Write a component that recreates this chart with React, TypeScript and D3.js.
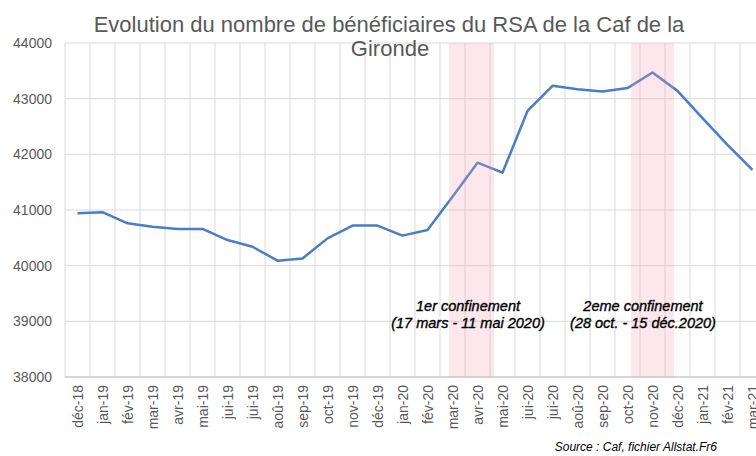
import React from 'react';
import * as d3 from 'd3';

const width = 756;
const height = 456;

const months = [
  'déc-18', 'jan-19', 'fév-19', 'mar-19', 'avr-19', 'mai-19', 'jui-19', 'jui-19',
  'aoû-19', 'sep-19', 'oct-19', 'nov-19', 'déc-19', 'jan-20', 'fév-20', 'mar-20',
  'avr-20', 'mai-20', 'jui-20', 'jui-20', 'aoû-20', 'sep-20', 'oct-20', 'nov-20',
  'déc-20', 'jan-21', 'fév-21', 'mar-21',
];
const beneficiaires = [
  40940, 40960, 40760, 40700, 40660, 40660, 40460, 40340,
  40090, 40130, 40490, 40720, 40720, 40540, 40640, 41240,
  41850, 41670, 42780, 43230, 43170, 43130, 43190, 43470,
  43140, 42650, 42170, 41720,
];
const yTicks = [38000, 39000, 40000, 41000, 42000, 43000, 44000];

// confinement periods, as fractional positions along the month axis
const confStart = [15.36, 22.64];
const confEnd = [17.16, 24.36];
const confLine1 = ['1er confinement', '2eme confinement'];
const confLine2 = ['(17 mars - 11 mai 2020)', '(28 oct. - 15 déc.2020)'];
const confLabelX = [16.12, 23.12];

const left = 65;
const top = 43;
const bottom = 377;
const step = 25;

export default function App() {
  const x = d3.scaleBand<number>()
    .domain(d3.range(months.length))
    .range([left, left + step * months.length]);
  const xPos = d3.scaleLinear().domain([0, months.length]).range([left, left + step * months.length]);
  const y = d3.scaleLinear().domain([38000, 44000]).range([bottom, top]);

  const line = d3.line<number>()
    .x((d, i) => x(i)! + x.bandwidth() / 2)
    .y((d) => y(d));

  const grey = '#595959';
  const font = 'Liberation Sans, Arial, sans-serif';

  return (
    <svg width={width} height={height} style={{ position: 'absolute', left: 0, top: 0, fontFamily: font }}>
      <rect width={width} height={height} fill="#fff" />
      {yTicks.map((t) => (
        <g key={t}>
          <line x1={left} x2={width} y1={y(t)} y2={y(t)} stroke={t === 38000 ? '#c8c8c8' : '#d9d9d9'} strokeWidth={t === 38000 ? 1.5 : 1} />
          <text x={52} y={y(t) + 5} textAnchor="end" fontSize={14} fill={grey}>{t}</text>
        </g>
      ))}
      {d3.range(months.length + 1).map((i) => (
        <line key={'v' + i} x1={xPos(i)} x2={xPos(i)} y1={top} y2={bottom} stroke="#d9d9d9" strokeWidth={1} />
      ))}
      <path d={line(beneficiaires)!} fill="none" stroke="#4a7ec4" strokeWidth={2.5} strokeLinejoin="round" />
      {confStart.map((s, i) => (
        <rect key={'c' + i} x={xPos(s)} y={top} width={xPos(confEnd[i]) - xPos(s)} height={bottom - top}
          fill="rgb(245,160,180)" fillOpacity={0.25} />
      ))}
      {months.map((m, i) => (
        <text key={'m' + i} transform={`translate(${x(i)! + x.bandwidth() / 2 + 5},385) rotate(-90)`}
          textAnchor="end" fontSize={14} fill={grey}>{m}</text>
      ))}
      {confLine1.map((t, i) => (
        <g key={'l' + i} fontStyle="italic" fontSize={14.5} fill="#000" stroke="#000" strokeWidth={0.35} textAnchor="middle">
          <text x={xPos(confLabelX[i])} y={311}>{t}</text>
          <text x={xPos(confLabelX[i])} y={328}>{confLine2[i]}</text>
        </g>
      ))}
      <text x={389} y={32} textAnchor="middle" fontSize={22} fill={grey}>
        Evolution du nombre de bénéficiaires du RSA de la Caf de la
      </text>
      <text x={390} y={56} textAnchor="middle" fontSize={22} fill={grey}>Gironde</text>
      <text x={717} y={451} textAnchor="end" fontSize={12} fontStyle="italic" fill="#000">
        Source : Caf, fichier Allstat.Fr6
      </text>
    </svg>
  );
}
